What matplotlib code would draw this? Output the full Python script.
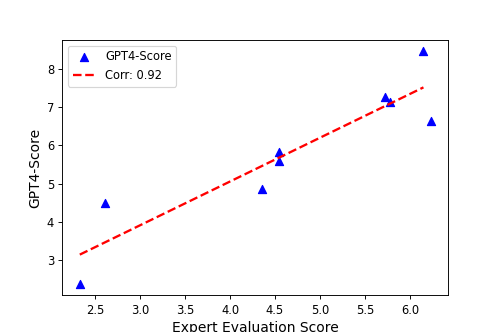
import matplotlib
matplotlib.use("Agg")
import matplotlib.pyplot as plt
import numpy as np

expert_scores = np.array([2.33, 2.61, 4.36, 4.54, 4.54, 5.72, 5.78, 6.15, 6.23])
gpt4_scores = np.array([2.38, 4.50, 4.87, 5.82, 5.60, 7.25, 7.13, 8.45, 6.64])
fit_range = np.array([2.33, 6.15])
corr_label = "Corr: 0.92"

coef = np.polyfit(expert_scores, gpt4_scores, 1)

plt.figure(figsize=(6, 4), dpi=83)
plt.scatter(expert_scores, gpt4_scores, color="blue", marker="^", s=50, label="GPT4-Score")
plt.plot(fit_range, np.polyval(coef, fit_range), "r--", linewidth=2, label=corr_label)
plt.xlabel("Expert Evaluation Score", fontsize=12)
plt.ylabel("GPT4-Score", fontsize=12)
plt.legend(loc="upper left")
plt.savefig("out.png")
